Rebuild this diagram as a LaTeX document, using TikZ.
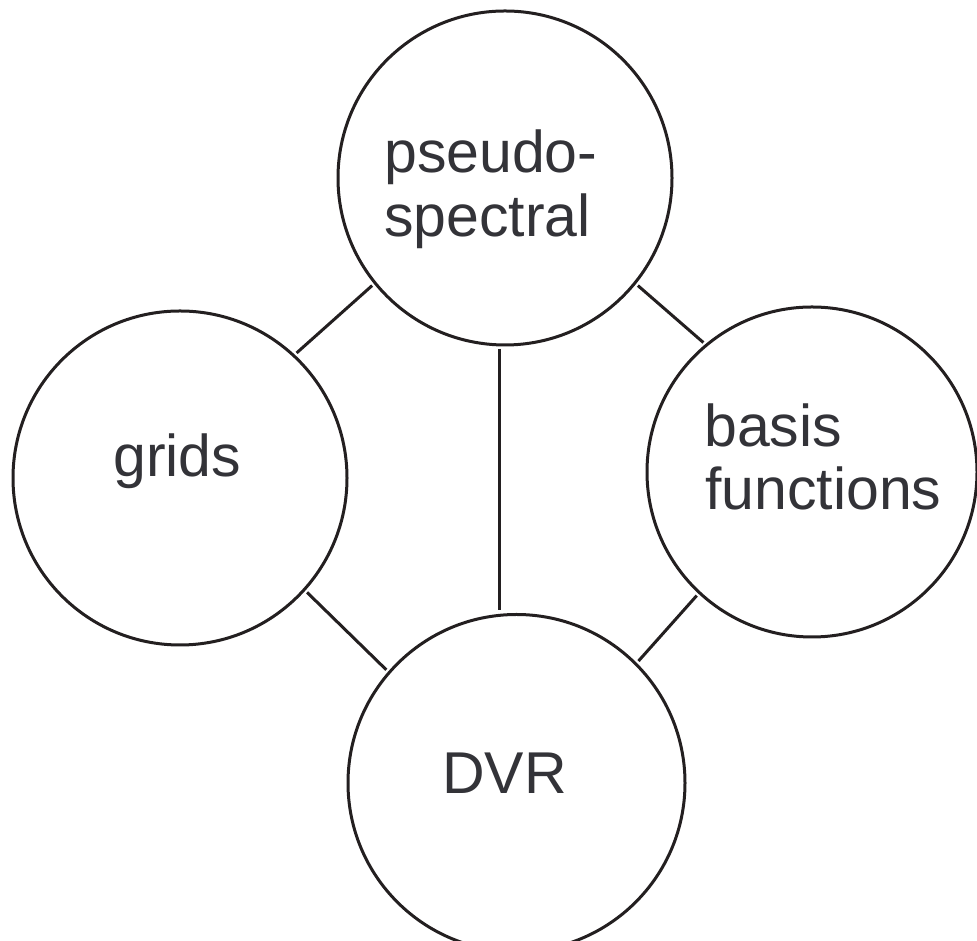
\documentclass[tikz,border=0pt]{standalone}
\usepackage{fontspec}
\setmainfont{Liberation Sans}
\definecolor{inkline}{RGB}{35,31,32}
\definecolor{inktext}{RGB}{51,51,56}
\begin{document}
\begin{tikzpicture}[x=1pt,y=1pt,
  topic/.style={circle,draw=inkline,line width=3pt,inner sep=0pt,outer sep=4pt,minimum size=#1},
  link/.style={draw=inkline,line width=3pt},
  word/.style={inner sep=0pt,anchor=base west,text=inktext,font=\fontsize{59}{64}\selectfont}]
\useasboundingbox (0,0) rectangle (977,941);
\clip (0,0) rectangle (977,941);

% the four topics
\node[topic=334pt] (ps)  at (505,763)   {};
\node[topic=334pt] (gr)  at (180,463)   {};
\node[topic=330pt] (bf)  at (812,469)   {};
\node[topic=337pt] (dvr) at (516.5,158) {};

% labels
\node[word] (ps1) at (384,768) {pseudo-};
\node[word] (ps2) at (384,704) {spectral};
\node[word] (grt) at (113,464) {grids};
\node[word] (bf1) at (704,494) {basis};
\node[word] (bf2) at (705,431) {functions};
\node[word] (dvt) at (442,147) {DVR};

% connections
\draw[link] (ps.219.5) -- (gr.47);
\draw[link] (ps.321.3) -- (bf.130.9);
\draw[link] (ps.268) -- (ps.268 |- dvr.north);
\draw[link] (gr.318) -- (dvr.139.6);
\draw[link] (bf.227.9) -- (dvr.45.3);
\end{tikzpicture}
\end{document}
